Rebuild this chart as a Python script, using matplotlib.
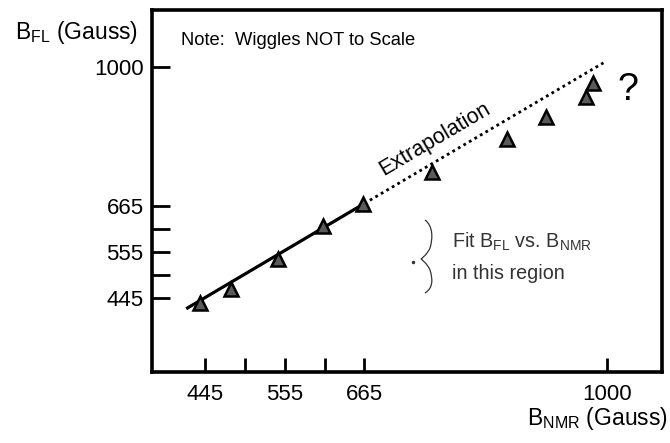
import matplotlib
matplotlib.use("Agg")
import matplotlib.pyplot as plt
from matplotlib.path import Path
from matplotlib.patches import PathPatch

plt.rcParams['font.family'] = ['Liberation Sans', 'DejaVu Sans']
plt.rcParams['mathtext.fontset'] = 'custom'
plt.rcParams['mathtext.rm'] = 'Liberation Sans'
plt.rcParams['mathtext.it'] = 'Liberation Sans:italic'
plt.rcParams['mathtext.bf'] = 'Liberation Sans:bold'

# data
b_nmr = [438, 481, 546, 608, 663, 758, 862, 916, 971, 981]
b_fl = [433, 467, 539, 618, 671, 748, 827, 880, 928, 962]
fit_solid_x = [419, 665]
fit_solid_y = [419, 672]
fit_dot_x = [665, 995]
fit_dot_y = [672, 1010]
tick_vals = [445, 500, 555, 610, 665, 1000]
tick_labels = ['445', '', '555', '', '665', '1000']

fig = plt.figure(figsize=(6.7, 4.43), dpi=100)
ax = fig.add_axes([152/670, 71/443, 510/670, 362/443])
ax.set_xlim(371.8, 1075.9)
ax.set_ylim(267, 1137)

ax.plot(fit_solid_x, fit_solid_y, color='black', lw=2.3, solid_capstyle='butt', zorder=2)
ax.plot(fit_dot_x, fit_dot_y, color='black', lw=2.0, linestyle=(0, (1, 1.3)), zorder=2)
ax.plot(b_nmr, b_fl, linestyle='none', marker='^', ms=9.5, mfc='#5a5a5a',
        mec='black', mew=1.8, zorder=3)

ax.set_xticks(tick_vals)
ax.set_xticklabels(tick_labels)
ax.set_yticks(tick_vals)
ax.set_yticklabels(tick_labels)
ax.tick_params(axis='both', direction='in', width=2, labelsize=16, colors='black')
ax.tick_params(axis='x', length=10, pad=9)
ax.tick_params(axis='y', length=13, pad=6)
for s in ax.spines.values():
    s.set_linewidth(2.6)

# texts
ax.text(0.057, 0.917, 'Note:  Wiggles NOT to Scale', transform=ax.transAxes,
        fontsize=13.2, ha='left', va='center')
ax.text(0.555, 0.643, 'Extrapolation', transform=ax.transAxes, fontsize=15.5,
        rotation=30.5, rotation_mode='anchor', ha='center', va='center')
ax.text(0.933, 0.780, '?', transform=ax.transAxes, fontsize=27,
        ha='center', va='center')
ax.text(0.588, 0.359, r'Fit B$_{\mathrm{FL}}$ vs. B$_{\mathrm{NMR}}$', transform=ax.transAxes,
        fontsize=14.2, ha='left', va='center', color='#333333')
ax.text(0.588, 0.273, 'in this region', transform=ax.transAxes,
        fontsize=14.2, ha='left', va='center', color='#333333')

# brace (decoration), in axes fraction
def px(x, y):
    return ((x - 152) / 510, (372 - y) / 362)

verts = [px(425, 220), px(433, 226), px(433, 238), px(430, 248),
         px(427, 255), px(421, 259), px(421, 259),
         px(421, 259), px(427, 263), px(430, 270),
         px(433, 280), px(433, 288), px(425, 293)]
codes = [Path.MOVETO, Path.CURVE4, Path.CURVE4, Path.CURVE4,
         Path.CURVE4, Path.CURVE4, Path.CURVE4,
         Path.CURVE4, Path.CURVE4, Path.CURVE4,
         Path.CURVE4, Path.CURVE4, Path.CURVE4]
brace = PathPatch(Path(verts, codes), transform=ax.transAxes, fill=False,
                  edgecolor='#333333', lw=0.9)
ax.add_patch(brace)
ax.plot([px(413, 262)[0]], [px(413, 262)[1]], marker='o', ms=1.5, color='#333333',
        transform=ax.transAxes)

fig.text(15/670, 1 - 33/443, r'B$_{\mathrm{FL}}$ (Gauss)', fontsize=16.5,
         ha='left', va='center')
fig.text(668/670, 1 - 419/443, r'B$_{\mathrm{NMR}}$ (Gauss)', fontsize=16.5,
         ha='right', va='center')

fig.savefig('out.png', dpi=100)
